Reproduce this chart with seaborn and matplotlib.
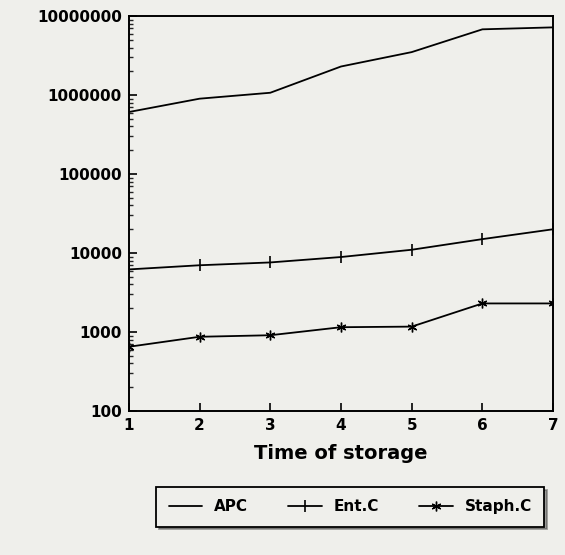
import pandas as pd
import matplotlib
matplotlib.use("Agg")
import matplotlib.pyplot as plt
import matplotlib.ticker as mticker
import seaborn as sns

days = [1, 2, 3, 4, 5, 6, 7]
apc = [610000, 900000, 1070000, 2300000, 3500000, 6800000, 7200000]
ent_c = [6200, 7000, 7600, 8900, 11000, 15000, 20000]
staph_c = [650, 870, 910, 1150, 1170, 2300, 2300]

y_ticks = [100, 1000, 10000, 100000, 1000000, 10000000]

sns.set_style("ticks")
plt.rcParams['font.family'] = ['DejaVu Sans']
plt.rcParams['font.weight'] = 'bold'
plt.rcParams['text.color'] = 'black'
plt.rcParams['axes.labelcolor'] = 'black'

bg = "#efefeb"
fig = plt.figure(figsize=(5.65, 5.55), dpi=100, facecolor=bg)
ax = fig.add_axes([0.228, 0.2595, 0.751, 0.7115], facecolor=bg)

sns.lineplot(x=days, y=apc, ax=ax, color="black", lw=1.3, label="APC")
sns.lineplot(x=days, y=ent_c, ax=ax, color="black", lw=1.3, marker="|",
             markersize=9, markeredgewidth=1.2, markeredgecolor="black",
             label="Ent.C")
sns.lineplot(x=days, y=staph_c, ax=ax, color="black", lw=1.3, marker=(6, 2, 0),
             markersize=7, markeredgewidth=1.0, markeredgecolor="black",
             label="Staph.C")

ax.set_yscale("log")
ax.set_ylim(100, 10000000)
ax.set_xlim(1, 7)
ax.set_xticks(days)
ax.set_yticks(y_ticks)
ax.yaxis.set_major_formatter(mticker.FuncFormatter(lambda v, p: f"{int(round(v))}"))
ax.yaxis.set_minor_locator(mticker.LogLocator(base=10, subs=range(2, 10)))
ax.yaxis.set_minor_formatter(mticker.NullFormatter())
ax.tick_params(axis="both", which="major", direction="in", length=6, width=1.2,
               labelsize=11, colors="black", pad=5)
ax.tick_params(axis="y", which="minor", direction="in", length=3, width=1.0)
for lab in ax.get_xticklabels() + ax.get_yticklabels():
    lab.set_fontweight("bold")
for sp in ax.spines.values():
    sp.set_linewidth(1.4)
    sp.set_color("black")

ax.set_xlabel("Time of storage", fontsize=14, fontweight="bold", labelpad=8,
              color="black")
ax.set_ylabel("")

ax.get_legend().remove()
handles, labels = ax.get_legend_handles_labels()
leg = fig.legend(handles, labels, loc="center", bbox_to_anchor=(0.62, 0.0865),
                 ncol=3, frameon=True, fancybox=False, shadow=True,
                 prop={"weight": "bold", "size": 11}, handlelength=2.2,
                 columnspacing=2.6, borderpad=0.8, labelcolor="black")
leg.get_frame().set_edgecolor("black")
leg.get_frame().set_linewidth(1.3)
leg.get_frame().set_facecolor(bg)

fig.savefig("out.png", dpi=100, facecolor=bg)
